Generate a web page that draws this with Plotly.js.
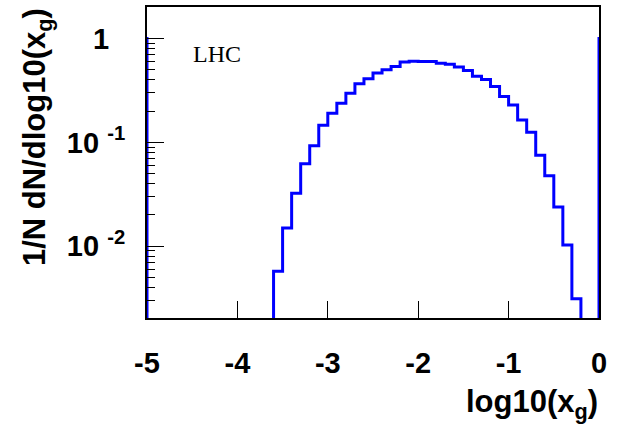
<!DOCTYPE html>
<html>
<head>
<meta charset="utf-8">
<script src="https://cdn.plot.ly/plotly-3.0.1.min.js"></script>
<style>
  html, body { margin: 0; padding: 0; background: #ffffff; }
  #chart { width: 626px; height: 427px; }
</style>
</head>
<body>
<div id="chart"></div>
<script>
// Gluon momentum-fraction spectrum at the LHC: 1/N dN/dlog10(x_g), bins of 0.1 in log10(x_g)
const binWidth = 0.1;
const binLow = [
  -3.6, -3.5, -3.4, -3.3, -3.2, -3.1, -3.0, -2.9, -2.8, -2.7,
  -2.6, -2.5, -2.4, -2.3, -2.2, -2.1, -2.0, -1.9, -1.8, -1.7,
  -1.6, -1.5, -1.4, -1.3, -1.2, -1.1, -1.0, -0.9, -0.8, -0.7,
  -0.6, -0.5, -0.4, -0.3
];
const dNdlogx = [
  0.00574, 0.0150, 0.0323, 0.0622, 0.0928, 0.146, 0.191, 0.238, 0.297, 0.366,
  0.409, 0.466, 0.499, 0.537, 0.592, 0.605, 0.600, 0.600, 0.579, 0.566,
  0.530, 0.491, 0.434, 0.402, 0.344, 0.276, 0.229, 0.164, 0.125, 0.0750,
  0.0477, 0.0238, 0.0103, 0.00312
];
// contents just outside the drawn range, seen as edges at log10(x_g) = -5 and 0
const underflowLow = -5.1, underflowValue = 1.0;
const overflowLow = 0.0, overflowValue = 1.0;

const xTickVals = [-5, -4, -3, -2, -1, 0];
const xTickText = ['-5', '-4', '-3', '-2', '-1', '0'];
const yTickVals = [0.01, 0.1, 1];
const yTickText = ['10 <sup>-2</sup>', '10 <sup>-1</sup>', '1\u00A0\u00A0'];

// Build a histogram outline (ROOT-style step line); empty bins drop below the axis floor
const EMPTY = 1e-5;
const bins = [{lo: underflowLow, v: underflowValue}]
  .concat(binLow.map((lo, i) => ({lo: lo, v: dNdlogx[i]})))
  .concat([{lo: overflowLow, v: overflowValue}]);
const sx = [], sy = [];
let prevHi = null;
bins.forEach(b => {
  const hi = +(b.lo + binWidth).toFixed(6);
  if (prevHi !== null && Math.abs(prevHi - b.lo) > 1e-9) {
    sx.push(prevHi, b.lo); sy.push(EMPTY, EMPTY);
  }
  sx.push(b.lo, hi); sy.push(b.v, b.v);
  prevHi = hi;
});

const W = 626, H = 427;
const M = {l: 147, r: 27, t: 7, b: 109};
const px2x = p => (p - M.l) / (W - M.l - M.r);
const px2y = p => (H - M.b - p) / (H - M.t - M.b);

const tickFont = {family: 'Liberation Sans, Arial, sans-serif', size: 29, color: '#000', weight: 'bold'};
const titleFont = {family: 'Liberation Sans, Arial, sans-serif', size: 31, color: '#000', weight: 'bold'};

const trace = {
  type: 'scatter',
  mode: 'lines',
  x: sx,
  y: sy,
  line: {color: '#0000ff', width: 3, simplify: false},
  hoverinfo: 'skip',
  showlegend: false
};

const layout = {
  width: W,
  height: H,
  margin: M,
  paper_bgcolor: '#ffffff',
  plot_bgcolor: '#ffffff',
  showlegend: false,
  xaxis: {
    range: [-5, 0],
    tickmode: 'array',
    tickvals: xTickVals,
    ticktext: xTickText,
    ticks: 'inside',
    ticklen: 17,
    tickwidth: 1,
    tickcolor: '#000',
    ticklabelstandoff: 18,
    tickfont: tickFont,
    showgrid: false,
    zeroline: false,
    showline: true,
    linecolor: '#000',
    linewidth: 2,
    mirror: true
  },
  yaxis: {
    type: 'log',
    range: [-2.691, 0.303],
    tickmode: 'array',
    tickvals: yTickVals,
    ticktext: yTickText,
    ticks: 'inside',
    ticklen: 17,
    tickwidth: 1,
    tickcolor: '#000',
    ticklabelstandoff: 14,
    tickfont: tickFont,
    minor: {ticks: 'inside', ticklen: 8, tickwidth: 1, tickcolor: '#000', dtick: 'D1', showgrid: false},
    showgrid: false,
    zeroline: false,
    showline: true,
    linecolor: '#000',
    linewidth: 2,
    mirror: true
  },
  annotations: [
    {
      text: 'LHC', showarrow: false,
      xref: 'paper', yref: 'paper',
      x: px2x(217), y: px2y(54), xanchor: 'center', yanchor: 'middle',
      font: {family: 'Liberation Serif, Times New Roman, serif', size: 24, color: '#000'}
    },
    {
      text: '1/N dN/dlog10(x<sub>g</sub>)', showarrow: false,
      xref: 'paper', yref: 'paper',
      x: px2x(37), y: px2y(137), xanchor: 'center', yanchor: 'middle',
      textangle: -90,
      font: titleFont
    },
    {
      text: 'log10(x<sub>g</sub>)', showarrow: false,
      xref: 'paper', yref: 'paper',
      x: px2x(600), y: px2y(404), xanchor: 'right', yanchor: 'middle',
      font: titleFont
    }
  ]
};

Plotly.newPlot('chart', [trace], layout, {staticPlot: true, displayModeBar: false});
</script>
</body>
</html>
